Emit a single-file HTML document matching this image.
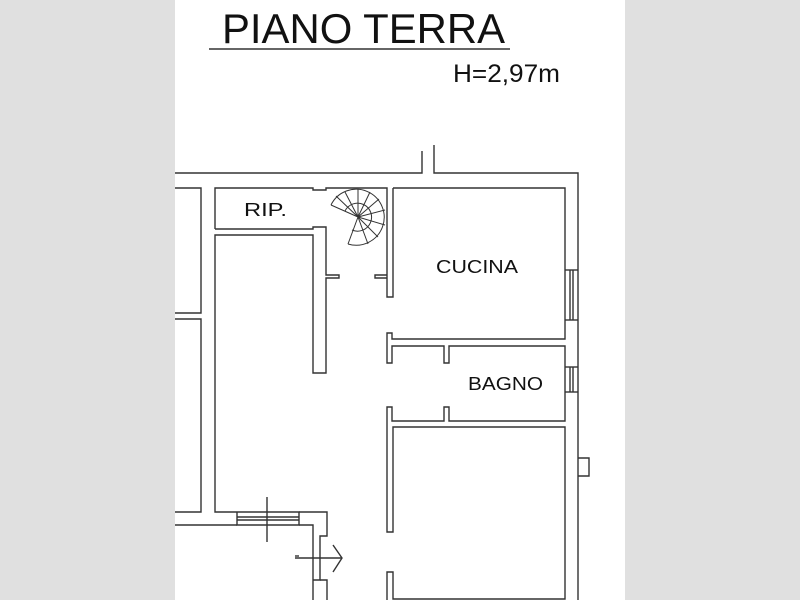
<!DOCTYPE html>
<html><head><style>
html,body{margin:0;padding:0;background:#e0e0e0;}
svg{display:block;}
</style></head><body>
<svg width="800" height="600" viewBox="0 0 800 600" xmlns="http://www.w3.org/2000/svg">
<rect x="0" y="0" width="800" height="600" fill="#e0e0e0"/>
<rect x="175" y="0" width="450" height="600" fill="#ffffff"/>
<g font-family="Liberation Sans, Arial, sans-serif" fill="#111">
<text x="222" y="43" font-size="42" textLength="283" lengthAdjust="spacingAndGlyphs">PIANO TERRA</text>
<text x="453" y="82" font-size="25" textLength="107" lengthAdjust="spacingAndGlyphs">H=2,97m</text>
<text x="244" y="216" font-size="18" textLength="43" lengthAdjust="spacingAndGlyphs">RIP.</text>
<text x="436" y="273" font-size="18" textLength="82" lengthAdjust="spacingAndGlyphs">CUCINA</text>
<text x="468" y="390" font-size="18" textLength="75" lengthAdjust="spacingAndGlyphs">BAGNO</text>
</g>
<g stroke="#333" stroke-width="1.4" fill="none">
<line x1="209" y1="49" x2="510" y2="49"/>
<polyline points="175,173 422,173 422,151"/>
<polyline points="434,145 434,173 578,173 578,600"/>
<polyline points="175,188 201,188 201,313 175,313"/>
<polyline points="175,319 201,319 201,512 175,512"/>
<polyline points="175,525 237,525"/>
<polyline points="215,229 215,188 313,188 313,190 326,190 326,188 387,188 387,297 393,297 393,188"/>
<polyline points="215,229 313,229 313,227 326,227 326,275 339,275 339,278 326,278 326,373 313,373 313,235 215,235 215,512 237,512"/>
<polyline points="387,275 375,275 375,278 387,278"/>
<polyline points="393,188 565,188 565,339 392,339 392,333 387,333 387,363 392,363 392,346 444,346 444,363 449,363 449,346 565,346 565,421 449,421 449,407 444,407 444,421 392,421 392,407 387,407 387,532 393,532 393,427 565,427 565,599 393,599 393,572 387,572 387,600"/>
<line x1="565" y1="270" x2="578" y2="270"/><line x1="565" y1="320" x2="578" y2="320"/>
<line x1="570" y1="270" x2="570" y2="320"/><line x1="573" y1="270" x2="573" y2="320"/>
<line x1="565" y1="367" x2="578" y2="367"/><line x1="565" y1="392" x2="578" y2="392"/>
<line x1="570" y1="367" x2="570" y2="392"/><line x1="573" y1="367" x2="573" y2="392"/>
<polyline points="578,458 589,458 589,476 578,476"/>
<line x1="237" y1="517" x2="299" y2="517"/><line x1="237" y1="520" x2="299" y2="520"/>
<polyline points="237,512 299,512 299,525 237,525 237,512"/>
<polyline points="299,512 327,512 327,536 320,536 320,580 313,580"/>
<polyline points="320,580 327,580 327,600"/>
<polyline points="299,525 313,525 313,600"/>
<line x1="267" y1="497" x2="267" y2="542"/>
<line x1="295" y1="558" x2="342" y2="558"/>
<polyline points="333,545 342,558 333,572"/>
<line x1="295" y1="556" x2="299" y2="556"/>
<g stroke-width="1">
<path d="M331,205 A28,28 0 1,1 348,244" />
<path d="M345,211 A14,14 0 1,1 352,230" />
<line x1="358" y1="217" x2="331" y2="205"/>
<line x1="358" y1="217" x2="336" y2="196"/>
<line x1="358" y1="217" x2="345" y2="192"/>
<line x1="358" y1="217" x2="358" y2="189"/>
<line x1="358" y1="217" x2="370" y2="192"/>
<line x1="358" y1="217" x2="379" y2="199"/>
<line x1="358" y1="217" x2="385" y2="210"/>
<line x1="358" y1="217" x2="385" y2="225"/>
<line x1="358" y1="217" x2="378" y2="237"/>
<line x1="358" y1="217" x2="368" y2="244"/>
<line x1="358" y1="217" x2="348" y2="244"/>
</g>
</g>
</svg>
</body></html>
